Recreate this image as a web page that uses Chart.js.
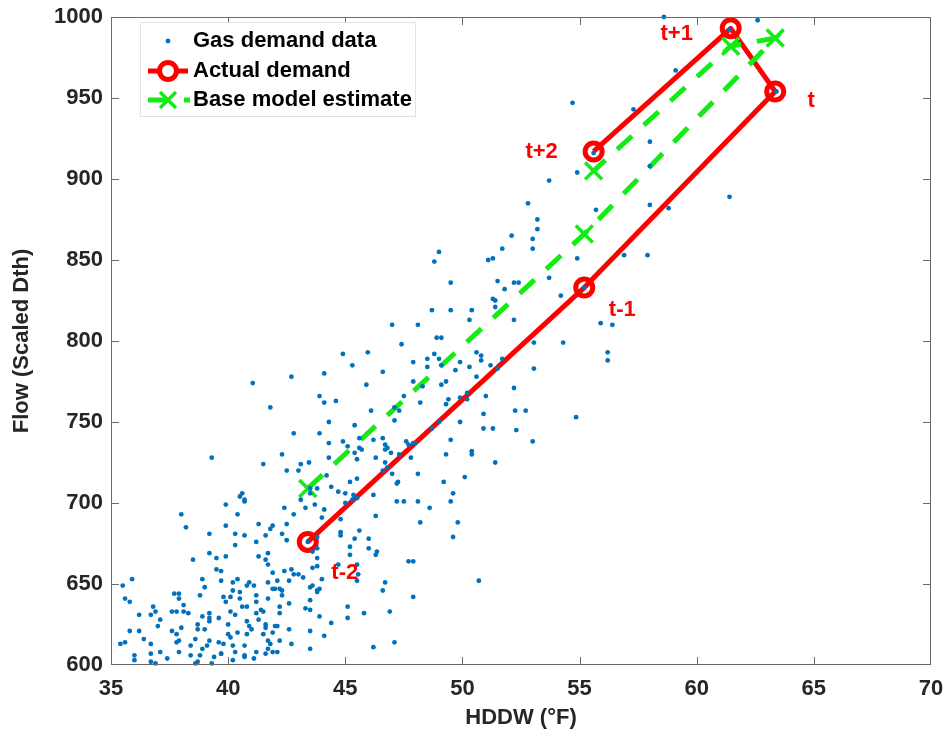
<!DOCTYPE html>
<html>
<head>
<meta charset="utf-8">
<title>HDDW vs Flow</title>
<script src="https://cdn.jsdelivr.net/npm/chart.js@4.4.1/dist/chart.umd.min.js"></script>
<style>
  body { margin: 0; background: #fff; }
  #contenedor { width: 948px; height: 740px; }
</style>
</head>
<body>
<div id="contenedor"><canvas id="grafica"></canvas></div>
<script>
// demanda diaria de gas: HDDW (°F) y flujo (Dth escalado)
const gasHddw = [
  39.9, 40.7, 42.4, 43.1, 38.0, 40.4, 42.8, 43.3, 38.2, 39.9, 41.3, 41.8, 41.9, 42.5, 39.2, 40.3, 40.7, 41.6, 42.3, 42.5,
  41.2, 40.3, 39.2, 39.5, 39.9, 38.5, 41.3, 41.6, 41.7, 41.7, 41.9, 42.4, 42.7, 42.8, 43.0, 43.2, 42.6, 39.5, 39.7, 35.9,
  35.5, 38.9, 39.7, 40.4, 40.2, 40.8, 40.9, 41.1, 41.7, 42.1, 39.0, 41.9, 42.0, 42.2, 42.3, 37.7, 37.9, 37.9, 40.2, 40.5,
  39.8, 39.9, 40.1, 40.5, 38.8, 41.2, 41.7, 42.3, 42.6, 35.6, 35.8, 36.8, 36.9, 37.1, 36.7, 36.2, 37.6, 37.8, 38.1, 38.1,
  38.3, 38.9, 39.2, 39.2, 39.6, 40.1, 40.3, 40.6, 40.8, 41.2, 41.4, 41.2, 41.3, 41.5, 42.2, 42.2, 43.3, 43.5, 37.0, 37.6,
  37.8, 38.0, 37.8, 37.9, 39.0, 38.7, 38.7, 39.2, 40.8, 40.9, 41.0, 40.8, 40.0, 40.4, 40.0, 40.1, 41.6, 41.6, 41.5, 42.0,
  41.9, 42.1, 42.6, 35.8, 36.2, 36.4, 35.4, 35.6, 36.7, 38.4, 38.6, 39.2, 39.1, 38.9, 39.6, 39.8, 39.7, 40.2, 40.7, 41.7,
  41.8, 41.7, 42.2, 42.7, 43.5, 43.5, 36.0, 36.7, 37.1, 37.9, 38.4, 38.8, 39.4, 39.7, 40.3, 40.7, 40.7, 41.1, 41.2, 41.6,
  41.9, 42.1, 36.0, 36.7, 36.9, 37.4, 38.6, 38.7, 39.3, 40.2,
  43.7, 44.1, 45.0, 45.3, 46.3, 44.8, 44.0, 45.6, 44.8, 44.8, 45.4, 46.0, 43.8, 43.4, 43.8, 43.6, 45.2, 46.0, 46.35, 46.3,
  45.2, 43.8, 43.8, 43.6, 44.7, 45.5, 45.55, 45.5, 44.0, 47.7, 47.9, 46.7, 46.6, 43.5, 43.6, 43.8, 43.9, 43.8, 43.5, 47.9,
  45.1, 45.1, 45.8, 46.9, 43.9, 44.4, 44.1, 46.2, 47.1, 50.7, 48.2, 49.8, 49.6, 47.5, 48.1, 48.6, 49.5,
  41.05, 42.7, 41.8, 42.8, 39.3, 42.3, 41.5, 42.5, 43.0, 43.1, 43.45, 40.5, 40.6, 40.7, 43.5,
  48.9, 49.1, 47.4, 45.96, 44.9, 45.3, 44.1, 46.6, 48.8, 48.5, 49.0, 47.9, 48.5, 49.1, 49.7, 49.9, 50.3, 50.6, 50.8, 50.8,
  51.2, 51.5, 47.9, 48.3, 49.1, 49.3, 50.6, 45.9, 43.9, 44.1, 44.6, 47.5, 48.2, 49.3, 49.4, 49.9, 50.2, 50.2, 51.0, 46.1,
  47.1, 47.3, 47.1, 44.3, 45.4, 43.9, 50.9, 49.9, 49.0, 48.7, 50.9, 51.3, 44.9, 45.1, 45.6, 45.6, 45.7, 46.2, 46.6, 46.7,
  46.8, 46.7, 46.95, 47.6, 47.7, 47.9, 48.0, 49.5, 50.4, 50.4, 49.3, 44.3, 44.3, 45.4, 45.5, 46.3, 47.3, 47.8, 46.7, 46.8,
  46.6, 47.0, 48.1, 49.2, 50.1, 51.4, 44.2, 45.5, 45.2, 44.4, 44.7, 45.0, 45.35, 45.5, 46.2, 47.2, 47.25, 47.2, 49.6, 43.8,
  43.5,
  53.05, 54.3, 56.2, 56.2, 51.7, 53.05, 52.2, 52.25, 52.7, 54.85, 52.3, 53.0,
  55.9, 56.4, 57.9, 56.9, 54.9, 53.7, 54.2, 49.0, 48.8, 49.5, 48.7, 49.5, 50.4, 50.3, 48.1, 51.1, 51.3, 51.5, 52.2, 52.4,
  51.8, 51.3, 51.4, 51.4, 52.2,
  54.9, 53.7, 52.8, 53.2, 53.2, 53.0, 53.0, 52.1, 51.7, 47.0,
  58.6, 62.6, 61.4, 59.1, 54.7, 57.3, 58.0, 55.6, 63.4, 58.0, 61.4, 55.7, 58.0, 58.8, 55.2
];
const gasFlow = [
  699, 701, 697, 702, 693, 693, 693, 697, 685, 686, 687, 684, 686, 687, 681, 681, 680, 680, 681, 677,
  676, 674, 669, 666, 667, 665, 667, 665, 669, 662, 657, 658, 659, 656, 656, 654, 652, 659, 658, 653,
  649, 653, 652, 653, 651, 649, 651, 649, 651, 652, 648, 647, 647, 647, 646, 644, 644, 641, 646, 645,
  642, 639, 642, 641, 643, 643, 641, 643, 638, 641, 639, 636, 633, 628, 631, 631, 633, 633, 637, 633,
  632, 630, 632, 629, 629, 633, 631, 636, 636, 639, 634, 632, 628, 633, 636, 632, 635, 634, 624, 621,
  619, 623, 614, 615, 622, 625, 622, 627, 627, 624, 622, 619, 625, 620, 619, 617, 625, 623, 619, 624,
  620, 624, 622, 621, 621, 616, 613, 614, 613, 612, 616, 615, 612, 610, 614, 613, 607, 612, 612, 615,
  613, 610, 615, 613, 621, 610, 606, 607, 608, 608, 606, 606, 605, 607, 608, 606, 605, 604, 608, 607,
  608, 608, 603, 602, 601, 604, 601, 602, 601, 603,
  699, 696, 700, 702, 692, 690, 691, 683, 682, 680, 678, 678, 679, 676, 672, 670, 673, 672, 670, 668,
  668, 666, 661, 660, 662, 662, 656, 652, 653, 664, 664, 651, 646, 648, 649, 646, 647, 645, 640, 642,
  636, 629, 632, 633, 630, 626, 618, 611, 614, 652, 688, 688, 679, 701, 701, 697, 701,
  774, 778, 759, 743, 728, 730, 724, 720, 720, 724, 725, 704, 706, 702, 706,
  802, 802, 798, 793, 792, 785, 780, 781, 792, 789, 789, 787, 784, 785, 782, 787, 784, 793, 791, 788,
  785, 783, 775, 772, 773, 775, 778, 773, 766, 762, 763, 766, 762, 761, 764, 765, 764, 768, 766, 757,
  759, 757, 751, 750, 748, 743, 755, 750, 750, 746, 746, 746, 738, 735, 740, 734, 733, 739, 740, 736,
  734, 733, 731, 738, 736, 737, 737, 739, 732, 730, 730, 737, 728, 731, 727, 728, 730, 728, 725, 722,
  720, 718, 718, 713, 716, 725, 717, 715, 713, 710, 707, 706, 705, 703, 705, 712, 713, 701, 706, 709,
  709,
  799, 799, 793, 788, 789, 783, 771, 757, 757, 753, 745, 738,
  811, 810, 853, 853, 851, 839, 828, 855, 849, 836, 819, 819, 819, 813, 810, 850, 851, 837, 836, 836,
  832, 826, 825, 821, 813,
  904, 899, 885, 875, 869, 863, 857, 865, 857, 810,
  1000, 998, 992, 967, 947, 943, 923, 916, 954, 908, 889, 881, 884, 882, 833
];

// los cinco días alrededor de t
const pasos = ['t-2', 't-1', 't', 't+1', 't+2'];
const pasosHddw = [43.4, 55.2, 63.35, 61.45, 55.6];
const demandaReal = [676, 833, 954, 993, 917];
const estimacionBase = [709, 866, 987, 982, 905];

const ticksX = [35, 40, 45, 50, 55, 60, 65, 70];
const ticksY = [600, 650, 700, 750, 800, 850, 900, 950, 1000];

const azul = '#0072BD';
const rojo = '#ff0000';
const verde = 'rgb(20,235,20)';
const fuente = '"Liberation Sans", Arial, Helvetica, sans-serif';

Chart.defaults.font.family = fuente;

function aPuntos(xs, ys) {
  return xs.map((x, i) => ({ x: x, y: ys[i] }));
}

// caja de ejes con marcas hacia adentro (estilo matlab)
const cajaEjes = {
  id: 'cajaEjes',
  afterDatasetsDraw(chart) {
    const ctx = chart.ctx;
    const a = chart.chartArea;
    const sx = chart.scales.x;
    const sy = chart.scales.y;
    ctx.save();
    ctx.strokeStyle = '#6a6a6a';
    ctx.lineWidth = 1;
    ctx.beginPath();
    ticksX.slice(1, -1).forEach(v => {
      const px = Math.round(sx.getPixelForValue(v)) + 0.5;
      ctx.moveTo(px, a.bottom);
      ctx.lineTo(px, a.bottom - 8);
      ctx.moveTo(px, a.top);
      ctx.lineTo(px, a.top + 8);
    });
    ticksY.slice(1, -1).forEach(v => {
      const py = Math.round(sy.getPixelForValue(v)) + 0.5;
      ctx.moveTo(a.left, py);
      ctx.lineTo(a.left + 8, py);
      ctx.moveTo(a.right, py);
      ctx.lineTo(a.right - 8, py);
    });
    ctx.stroke();
    ctx.strokeRect(Math.round(a.left) + 0.5, Math.round(a.top) + 0.5,
      Math.round(a.width) - 1, Math.round(a.height) - 1);
    ctx.restore();
  }
};

// etiquetas t-2 ... t+2 junto a la demanda real
const desplazamientos = [[37, 31], [38, 22], [36, 9], [-54, 6], [-52, 0]];
const etiquetasPasos = {
  id: 'etiquetasPasos',
  afterDatasetsDraw(chart) {
    const ctx = chart.ctx;
    const meta = chart.getDatasetMeta(2);
    ctx.save();
    ctx.font = 'bold 22px ' + fuente;
    ctx.fillStyle = rojo;
    ctx.textAlign = 'center';
    ctx.textBaseline = 'middle';
    meta.data.forEach((p, i) => {
      ctx.fillText(pasos[i], p.x + desplazamientos[i][0], p.y + desplazamientos[i][1]);
    });
    ctx.restore();
  }
};

// leyenda dibujada a mano para poder combinar linea y marcador
const leyenda = {
  id: 'leyenda',
  afterDraw(chart) {
    const ctx = chart.ctx;
    const x0 = 140, y0 = 22, ancho = 275, alto = 94;
    ctx.save();
    ctx.fillStyle = '#fff';
    ctx.fillRect(x0, y0, ancho, alto);
    ctx.strokeStyle = '#e2e2e2';
    ctx.lineWidth = 1;
    ctx.strokeRect(x0 + 0.5, y0 + 0.5, ancho, alto);

    const filas = [41, 71, 100];
    const cx = 168;

    // datos de gas
    ctx.fillStyle = azul;
    ctx.beginPath();
    ctx.arc(cx, filas[0], 2.4, 0, Math.PI * 2);
    ctx.fill();

    // demanda real
    ctx.strokeStyle = rojo;
    ctx.lineWidth = 5;
    ctx.beginPath();
    ctx.moveTo(148, filas[1]);
    ctx.lineTo(188, filas[1]);
    ctx.stroke();
    ctx.beginPath();
    ctx.arc(cx, filas[1], 8.5, 0, Math.PI * 2);
    ctx.fillStyle = '#fff';
    ctx.fill();
    ctx.stroke();

    // estimacion del modelo base
    ctx.strokeStyle = verde;
    ctx.setLineDash([20, 16]);
    ctx.beginPath();
    ctx.moveTo(148, filas[2]);
    ctx.lineTo(190, filas[2]);
    ctx.stroke();
    ctx.setLineDash([]);
    ctx.lineWidth = 3.5;
    ctx.beginPath();
    ctx.moveTo(cx - 8, filas[2] - 8);
    ctx.lineTo(cx + 8, filas[2] + 8);
    ctx.moveTo(cx - 8, filas[2] + 8);
    ctx.lineTo(cx + 8, filas[2] - 8);
    ctx.stroke();

    ctx.fillStyle = '#000';
    ctx.font = 'bold 22px ' + fuente;
    ctx.textAlign = 'left';
    ctx.textBaseline = 'middle';
    ctx.fillText('Gas demand data', 193, filas[0]);
    ctx.fillText('Actual demand', 193, filas[1]);
    ctx.fillText('Base model estimate', 193, filas[2]);
    ctx.restore();
  }
};

function crearGrafica() {
  const ctx = document.getElementById('grafica').getContext('2d');
  new Chart(ctx, {
    type: 'scatter',
    data: {
      datasets: [
        {
          label: 'Gas demand data',
          data: aPuntos(gasHddw, gasFlow),
          showLine: false,
          pointRadius: 2.4,
          pointBackgroundColor: azul,
          pointBorderWidth: 0,
          order: 0,
          clip: 6
        },
        {
          label: 'Base model estimate',
          data: aPuntos(pasosHddw, estimacionBase),
          showLine: true,
          borderColor: verde,
          borderWidth: 5,
          borderDash: [20, 16],
          pointStyle: 'crossRot',
          pointRadius: 12,
          pointBorderWidth: 3.5,
          pointBorderColor: verde,
          pointBackgroundColor: verde,
          order: 1,
          clip: 20
        },
        {
          label: 'Actual demand',
          data: aPuntos(pasosHddw, demandaReal),
          showLine: true,
          borderColor: rojo,
          borderWidth: 5,
          borderJoinStyle: 'round',
          pointStyle: 'circle',
          pointRadius: 8.5,
          pointBorderWidth: 5,
          pointBorderColor: rojo,
          pointBackgroundColor: 'rgba(0,0,0,0)',
          order: 2,
          clip: 20
        }
      ]
    },
    options: {
      responsive: true,
      maintainAspectRatio: false,
      animation: false,
      events: [],
      layout: { padding: { top: 17, right: 17, left: 0, bottom: 0 } },
      plugins: {
        legend: { display: false },
        tooltip: { enabled: false }
      },
      scales: {
        x: {
          type: 'linear',
          min: 35,
          max: 70,
          afterBuildTicks: s => { s.ticks = ticksX.map(v => ({ value: v })); },
          afterFit: s => {
            s.height = 75;
            s.paddingLeft = 0;
            s.paddingRight = 0;
          },
          grid: { display: false, drawTicks: false },
          border: { display: false },
          ticks: {
            padding: 11,
            maxRotation: 0,
            autoSkip: false,
            color: '#262626',
            font: { size: 22, weight: 'bold' },
            callback: v => String(v)
          },
          title: {
            display: true,
            text: 'HDDW (°F)',
            color: '#262626',
            font: { size: 22, weight: 'bold' },
            padding: { top: 0, bottom: 9 }
          }
        },
        y: {
          type: 'linear',
          min: 600,
          max: 1000,
          afterBuildTicks: s => { s.ticks = ticksY.map(v => ({ value: v })); },
          afterFit: s => {
            s.width = 111;
            s.paddingTop = 0;
            s.paddingBottom = 0;
          },
          grid: { display: false, drawTicks: false },
          border: { display: false },
          ticks: {
            padding: 8,
            autoSkip: false,
            color: '#262626',
            font: { size: 22, weight: 'bold' },
            callback: v => String(v)
          },
          title: {
            display: true,
            text: 'Flow (Scaled Dth)',
            color: '#262626',
            font: { size: 22, weight: 'bold' },
            padding: { top: 9, bottom: 0 }
          }
        }
      }
    },
    plugins: [cajaEjes, etiquetasPasos, leyenda]
  });
}

document.addEventListener('DOMContentLoaded', crearGrafica);
</script>
</body>
</html>
